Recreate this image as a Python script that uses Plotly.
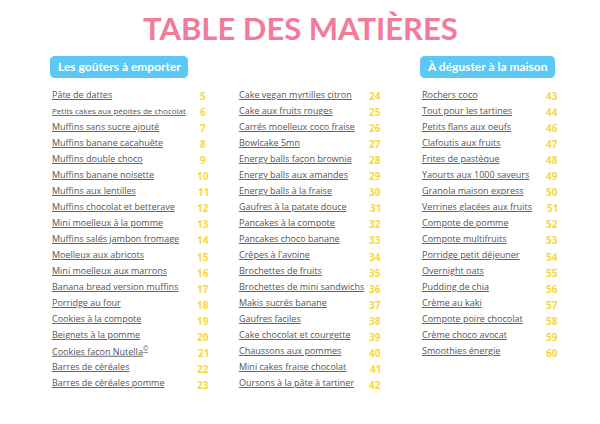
import re
import plotly.graph_objects as go

col1_titles = ["Pâte de dattes", "Petits cakes aux pépites de chocolat", "Muffins sans sucre ajouté",
               "Muffins banane cacahuète", "Muffins double choco", "Muffins banane noisette",
               "Muffins aux lentilles", "Muffins chocolat et betterave", "Mini moelleux à la pomme",
               "Muffins salés jambon fromage", "Moelleux aux abricots", "Mini moelleux aux marrons",
               "Banana bread version muffins", "Porridge au four", "Cookies à la compote",
               "Beignets à la pomme", "Cookies façon Nutella<sup>©</sup>", "Barres de céréales",
               "Barres de céréales pomme"]
col1_pages = list(range(5, 24))
col2_titles = ["Cake vegan myrtilles citron", "Cake aux fruits rouges", "Carrés moelleux coco fraise",
               "Bowlcake 5mn", "Energy balls façon brownie", "Energy balls aux amandes",
               "Energy balls à la fraise", "Gaufres à la patate douce", "Pancakes à la compote",
               "Pancakes choco banane", "Crêpes à l'avoine", "Brochettes de fruits",
               "Brochettes de mini sandwichs", "Makis sucrés banane", "Gaufres faciles",
               "Cake chocolat et courgette", "Chaussons aux pommes", "Mini cakes fraise chocolat",
               "Oursons à la pâte à tartiner"]
col2_pages = list(range(24, 43))
col3_titles = ["Rochers coco", "Tout pour les tartines", "Petits flans aux oeufs", "Clafoutis aux fruits",
               "Frites de pastèque", "Yaourts aux 1000 saveurs", "Granola maison express",
               "Verrines glacées aux fruits", "Compote de pomme", "Compote multifruits",
               "Porridge petit déjeuner", "Overnight oats", "Pudding de chia", "Crème au kaki",
               "Compote poire chocolat", "Crème choco avocat", "Smoothies énergie"]
col3_pages = [43, 44, 46, 47, 48, 49, 50, 51, 52, 53, 54, 55, 56, 57, 58, 59, 60]
headers = ["Les goûters à emporter", "À déguster à la maison"]

W, H = 600, 424
OFF = 8  # page margin offset
def px(x): return (x - OFF) / W
def py(y): return 1 - (y - OFF) / H

def rounded(x0, y0, x1, y1, r=5):
    # rounded rectangle path in paper coords (pixel input)
    pts = (f"M {px(x0 + r)},{py(y0)} L {px(x1 - r)},{py(y0)} Q {px(x1)},{py(y0)} {px(x1)},{py(y0 + r)} "
           f"L {px(x1)},{py(y1 - r)} Q {px(x1)},{py(y1)} {px(x1 - r)},{py(y1)} "
           f"L {px(x0 + r)},{py(y1)} Q {px(x0)},{py(y1)} {px(x0)},{py(y1 - r)} "
           f"L {px(x0)},{py(y0 + r)} Q {px(x0)},{py(y0)} {px(x0 + r)},{py(y0)} Z")
    return pts

fig = go.Figure()
ann = []
shapes = []
ann.append(dict(x=px(300), y=py(28), text="<b>TABLE DES MATIÈRES</b>", showarrow=False,
                xref="paper", yref="paper",
                font=dict(family="Lato", size=31, color="#f27a9b"), xanchor="center", yanchor="middle"))
for hx, hw, t in [(50, 138, headers[0]), (420, 135, headers[1])]:
    shapes.append(dict(type="path", xref="paper", yref="paper", path=rounded(hx, 56, hx + hw, 78),
                       fillcolor="#5bc8f5", line=dict(width=0), layer="below"))
    ann.append(dict(x=px(hx + hw / 2), y=py(67), text="<b>" + t + "</b>", showarrow=False,
                    xref="paper", yref="paper",
                    font=dict(family="Lato", size=12, color="white"), xanchor="center", yanchor="middle"))

cols = [(col1_titles, col1_pages, 50, 203), (col2_titles, col2_pages, 237, 375),
        (col3_titles, col3_pages, 420, 552)]
for titles, pages, tx, nx in cols:
    for i, (t, p) in enumerate(zip(titles, pages)):
        y = 94 + i * 16.05
        plain = re.sub(r"<[^>]+>", "", t)
        size = 8 if len(plain) > 32 else 9
        ann.append(dict(x=px(tx), y=py(y), text="<u>" + t + "</u>", showarrow=False, xanchor="left",
                        xref="paper", yref="paper",
                        yanchor="middle", font=dict(family="Open Sans", size=size, color="#555555")))
        ann.append(dict(x=px(nx), y=py(y + 2), text="<b>" + str(p) + "</b>", showarrow=False,
                        xref="paper", yref="paper", xanchor="center", yanchor="middle",
                        font=dict(family="Open Sans", size=10, color="#f7d83a")))

fig.update_layout(width=W, height=H, margin=dict(l=0, r=0, t=0, b=0), paper_bgcolor="white",
                  plot_bgcolor="white", annotations=ann, shapes=shapes,
                  xaxis=dict(visible=False), yaxis=dict(visible=False))
fig.write_html("out.html")
